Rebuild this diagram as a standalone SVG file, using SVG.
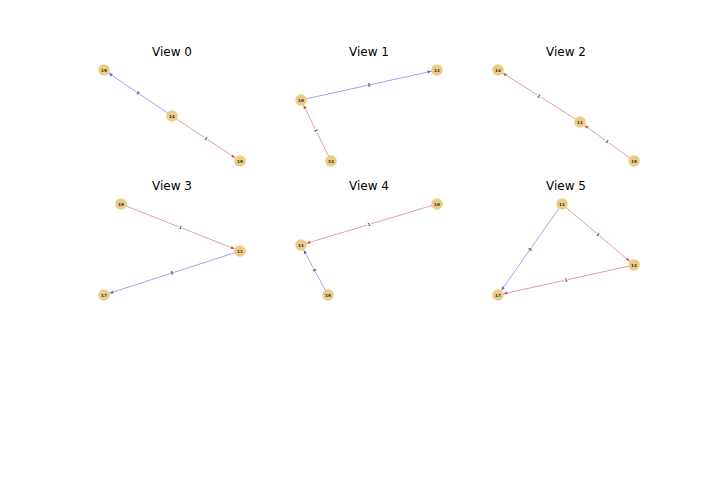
<svg xmlns="http://www.w3.org/2000/svg" width="720" height="504" viewBox="0 0 720 504">
<style>
.title{font-family:"DejaVu Sans",sans-serif;font-size:12px;fill:#000;text-anchor:middle}
.node circle{fill:#ebcd88;stroke:none}
.node text{font-family:"DejaVu Sans",sans-serif;font-size:4.2px;font-weight:bold;fill:#333;text-anchor:middle;dominant-baseline:central}
.eb{stroke:#9a9aee;stroke-width:0.9;fill:none}
.er{stroke:#e09696;stroke-width:0.9;fill:none}
.lbl rect{fill:#fff}
.lbl text{font-family:"DejaVu Sans",sans-serif;font-size:4.2px;font-weight:bold;fill:#333;text-anchor:middle;dominant-baseline:central}
</style>
<defs>
<marker id="ab" markerUnits="userSpaceOnUse" markerWidth="20" markerHeight="6" viewBox="0 0 20 6" refX="10" refY="3" orient="auto"><path d="M0.5,1.4 L4,3 L0.5,4.6 z" fill="#5555ee"/></marker>
<marker id="ar" markerUnits="userSpaceOnUse" markerWidth="20" markerHeight="6" viewBox="0 0 20 6" refX="10" refY="3" orient="auto"><path d="M0.5,1.4 L4,3 L0.5,4.6 z" fill="#dd4444"/></marker>
</defs>
<rect width="720" height="504" fill="#fff"/>
<g id="titles">
<text class="title" x="172" y="56">View 0</text>
<text class="title" x="369" y="56">View 1</text>
<text class="title" x="566" y="56">View 2</text>
<text class="title" x="172" y="190">View 3</text>
<text class="title" x="369" y="190">View 4</text>
<text class="title" x="566" y="190">View 5</text>
</g>
<g id="connectors">
<line class="eb" x1="172" y1="116" x2="104" y2="70" marker-end="url(#ab)"/>
<line class="er" x1="172" y1="116" x2="240" y2="161" marker-end="url(#ar)"/>
<line class="eb" x1="301" y1="100" x2="437" y2="70" marker-end="url(#ab)"/>
<line class="er" x1="331" y1="161" x2="301" y2="100" marker-end="url(#ar)"/>
<line class="er" x1="580" y1="122" x2="498" y2="70" marker-end="url(#ar)"/>
<line class="er" x1="634" y1="161" x2="580" y2="122" marker-end="url(#ar)"/>
<line class="er" x1="121" y1="204" x2="240" y2="251" marker-end="url(#ar)"/>
<line class="eb" x1="240" y1="251" x2="104" y2="295" marker-end="url(#ab)"/>
<line class="er" x1="437" y1="204" x2="301" y2="245" marker-end="url(#ar)"/>
<line class="eb" x1="328" y1="295" x2="301" y2="245" marker-end="url(#ab)"/>
<line class="eb" x1="562" y1="204" x2="498" y2="295" marker-end="url(#ab)"/>
<line class="er" x1="562" y1="204" x2="634" y2="265" marker-end="url(#ar)"/>
<line class="er" x1="634" y1="265" x2="498" y2="295" marker-end="url(#ar)"/>
<g class="lbl" transform="translate(138,93) rotate(34.1)"><rect x="-2.2" y="-2.2" width="4.4" height="4.4"/><text>0</text></g>
<g class="lbl" transform="translate(206,138.5) rotate(33.5)"><rect x="-2.2" y="-2.2" width="4.4" height="4.4"/><text>1</text></g>
<g class="lbl" transform="translate(369,85) rotate(-12.4)"><rect x="-2.2" y="-2.2" width="4.4" height="4.4"/><text>0</text></g>
<g class="lbl" transform="translate(316,130.5) rotate(63.8)"><rect x="-2.2" y="-2.2" width="4.4" height="4.4"/><text>1</text></g>
<g class="lbl" transform="translate(539,96) rotate(32.4)"><rect x="-2.2" y="-2.2" width="4.4" height="4.4"/><text>1</text></g>
<g class="lbl" transform="translate(607,141.5) rotate(35.8)"><rect x="-2.2" y="-2.2" width="4.4" height="4.4"/><text>1</text></g>
<g class="lbl" transform="translate(180.5,227.5) rotate(21.6)"><rect x="-2.2" y="-2.2" width="4.4" height="4.4"/><text>1</text></g>
<g class="lbl" transform="translate(172,273) rotate(-17.9)"><rect x="-2.2" y="-2.2" width="4.4" height="4.4"/><text>0</text></g>
<g class="lbl" transform="translate(369,224.5) rotate(-16.8)"><rect x="-2.2" y="-2.2" width="4.4" height="4.4"/><text>1</text></g>
<g class="lbl" transform="translate(314.5,270) rotate(61.6)"><rect x="-2.2" y="-2.2" width="4.4" height="4.4"/><text>0</text></g>
<g class="lbl" transform="translate(530,249.5) rotate(-54.9)"><rect x="-2.2" y="-2.2" width="4.4" height="4.4"/><text>0</text></g>
<g class="lbl" transform="translate(598,234.5) rotate(40.3)"><rect x="-2.2" y="-2.2" width="4.4" height="4.4"/><text>1</text></g>
<g class="lbl" transform="translate(566,280) rotate(-12.4)"><rect x="-2.2" y="-2.2" width="4.4" height="4.4"/><text>1</text></g>
</g>
<g id="v0-n19a" class="node"><circle cx="104" cy="70" r="5.8"/><text x="104" y="70">19</text></g>
<g id="v0-n14" class="node"><circle cx="172" cy="116" r="5.8"/><text x="172" y="116">14</text></g>
<g id="v0-n19b" class="node"><circle cx="240" cy="161" r="5.8"/><text x="240" y="161">19</text></g>
<g id="v1-n11" class="node"><circle cx="437" cy="70" r="5.8"/><text x="437" y="70">11</text></g>
<g id="v1-n19" class="node"><circle cx="301" cy="100" r="5.8"/><text x="301" y="100">19</text></g>
<g id="v1-n14" class="node"><circle cx="331" cy="161" r="5.8"/><text x="331" y="161">14</text></g>
<g id="v2-n14" class="node"><circle cx="498" cy="70" r="5.8"/><text x="498" y="70">14</text></g>
<g id="v2-n11" class="node"><circle cx="580" cy="122" r="5.8"/><text x="580" y="122">11</text></g>
<g id="v2-n19" class="node"><circle cx="634" cy="161" r="5.8"/><text x="634" y="161">19</text></g>
<g id="v3-n19" class="node"><circle cx="121" cy="204" r="5.8"/><text x="121" y="204">19</text></g>
<g id="v3-n11" class="node"><circle cx="240" cy="251" r="5.8"/><text x="240" y="251">11</text></g>
<g id="v3-n17" class="node"><circle cx="104" cy="295" r="5.8"/><text x="104" y="295">17</text></g>
<g id="v4-n19a" class="node"><circle cx="437" cy="204" r="5.8"/><text x="437" y="204">19</text></g>
<g id="v4-n11" class="node"><circle cx="301" cy="245" r="5.8"/><text x="301" y="245">11</text></g>
<g id="v4-n19b" class="node"><circle cx="328" cy="295" r="5.8"/><text x="328" y="295">19</text></g>
<g id="v5-n11" class="node"><circle cx="562" cy="204" r="5.8"/><text x="562" y="204">11</text></g>
<g id="v5-n14" class="node"><circle cx="634" cy="265" r="5.8"/><text x="634" y="265">14</text></g>
<g id="v5-n17" class="node"><circle cx="498" cy="295" r="5.8"/><text x="498" y="295">17</text></g>
</svg>
